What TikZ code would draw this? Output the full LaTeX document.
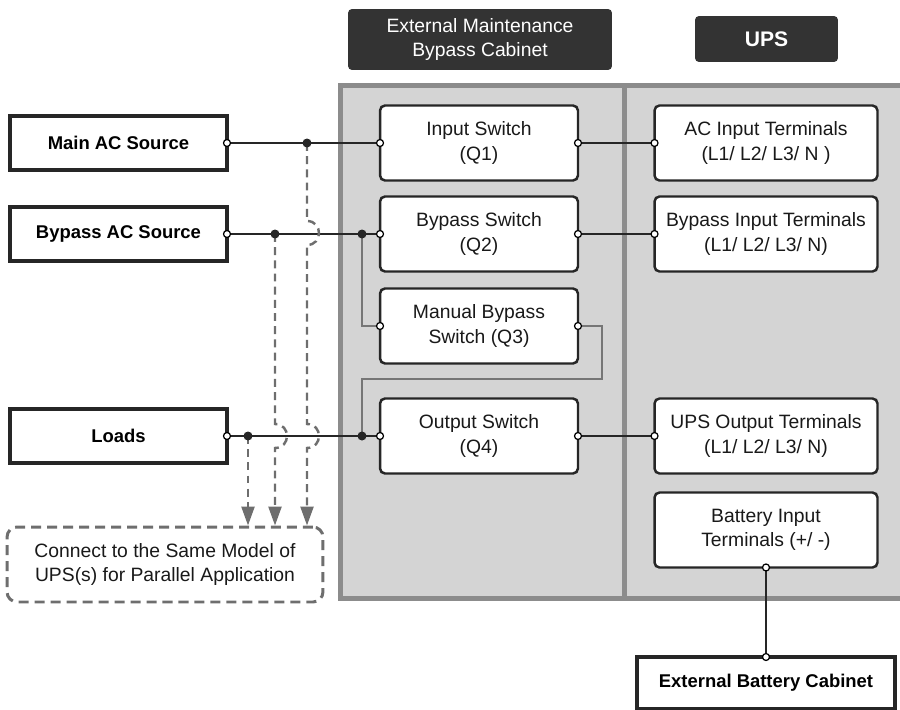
\documentclass[tikz,border=0pt]{standalone}
\usepackage{fontspec}
\setmainfont{Liberation Sans}
\usetikzlibrary{arrows.meta}
\definecolor{panelgray}{HTML}{D4D4D4}
\definecolor{panelline}{HTML}{8C8C8C}
\definecolor{hdrgray}{HTML}{333333}
\definecolor{wiregray}{HTML}{767676}
\definecolor{dashgray}{HTML}{6E6E6E}

\begin{document}
\begin{tikzpicture}[x=0.02cm, y=-0.02cm,
    every node/.style={font=\fontsize{11}{14}\selectfont, text=black!90},
    srcbox/.style={draw=black!85, line width=2.2pt, fill=white, outer sep=0pt,
        minimum width=4.34cm, minimum height=1.08cm,
        font=\fontsize{10.5}{13}\selectfont\bfseries, text=black},
    swbox/.style={draw=black!85, line width=1.4pt, fill=white, outer sep=0pt,
        rounded corners=0.1cm, minimum width=3.96cm, minimum height=1.5cm, align=center},
    upsbox/.style={swbox, minimum width=4.46cm},
    hdrbox/.style={fill=hdrgray, rounded corners=0.08cm, text=white, align=center},
    wire/.style={line width=1.1pt, black!85},
    graywire/.style={line width=1.1pt, wiregray},
    dashwire/.style={line width=1.4pt, dashgray, dash pattern=on 4.5pt off 3pt,
        -{Triangle[length=0.38cm, width=0.26cm]}},
    hop/.style={to path={.. controls +(16,0) and +(16,0) .. (\tikztotarget)}}]
    \useasboundingbox (0,0) rectangle (900,710);

    % cabinet and ups panel
    \fill[panelgray] (340,85) rectangle (900,598);
    \draw[panelline, line width=0.1cm] (900,85) -- (340,85) -- (340,598) -- (900,598);
    \draw[panelline, line width=0.1cm] (624.5,85) -- (624.5,598);

    \node[hdrbox, minimum width=5.28cm, minimum height=1.22cm] (hdrmbc) at (480,39.5) {External Maintenance\\Bypass Cabinet};
    \node[hdrbox, minimum width=2.86cm, minimum height=0.92cm, font=\fontsize{12}{14}\selectfont\bfseries] (hdrups) at (766.5,39) {UPS};

    % sources
    \node[srcbox] (mainsrc) at (118.5,143) {Main AC Source};
    \node[srcbox] (bypsrc) at (118.5,234) {Bypass AC Source};
    \node[srcbox] (loads) at (118.5,436) {Loads};

    % switches
    \node[swbox] (q1) at (479,143) {Input Switch\\(Q1)};
    \node[swbox] (q2) at (479,234) {Bypass Switch\\(Q2)};
    \node[swbox] (q3) at (479,326) {Manual Bypass\\Switch (Q3)};
    \node[swbox] (q4) at (479,436) {Output Switch\\(Q4)};

    % ups terminals
    \node[upsbox] (acin) at (766,143) {AC Input Terminals\\(L1/ L2/ L3/ N )};
    \node[upsbox] (bypin) at (766,234) {Bypass Input Terminals\\(L1/ L2/ L3/ N)};
    \node[upsbox] (upsout) at (766,436) {UPS Output Terminals\\(L1/ L2/ L3/ N)};
    \node[upsbox] (batin) at (766,530) {Battery Input\\Terminals (+/ -)};

    \node[srcbox, minimum width=5.16cm, minimum height=1.04cm] (extbat) at (766,683) {External Battery Cabinet};

    \node[draw=dashgray, line width=1.7pt, dash pattern=on 5.7pt off 3.4pt, rounded corners=0.2cm,
        minimum width=6.32cm, minimum height=1.5cm, align=center] (para) at (165,564.5)
        {Connect to the Same Model of\\UPS(s) for Parallel Application};

    % junctions
    \coordinate (jmain) at (307,143);
    \coordinate (jbyp1) at (275,234);
    \coordinate (jbyp2) at (362,234);
    \coordinate (jload1) at (248,436);
    \coordinate (jload2) at (362,436);

    \draw[graywire] (jbyp2) |- (q3.west);
    \draw[graywire] (q3.east) -| (602,379) -| (jload2);

    \draw[wire] (mainsrc.east) -- (q1.west);
    \draw[wire] (bypsrc.east) -- (q2.west);
    \draw[wire] (loads.east) -- (q4.west);
    \draw[wire] (q1.east) -- (acin.west);
    \draw[wire] (q2.east) -- (bypin.west);
    \draw[wire] (q4.east) -- (upsout.west);
    \draw[wire] (batin.south) -- (extbat.north);

    % parallel links
    \draw[dashwire] (jmain) -- (307,221) to[hop] (307,245) -- (307,424) to[hop] (307,448) -- (jmain |- para.north);
    \draw[dashwire] (jbyp1) -- (275,424) to[hop] (275,448) -- (jbyp1 |- para.north);
    \draw[dashwire] (jload1) -- (jload1 |- para.north);

    \foreach \j in {jmain, jbyp1, jbyp2, jload1, jload2}
        \fill[black!85] (\j) circle[radius=0.09cm];
    \foreach \p in {mainsrc.east, bypsrc.east, loads.east, q1.west, q1.east, q2.west, q2.east,
            q3.west, q3.east, q4.west, q4.east, acin.west, bypin.west, upsout.west, batin.south, extbat.north}
        \filldraw[fill=white, draw=black, line width=0.7pt] (\p) circle[radius=0.07cm];
\end{tikzpicture}
\end{document}
